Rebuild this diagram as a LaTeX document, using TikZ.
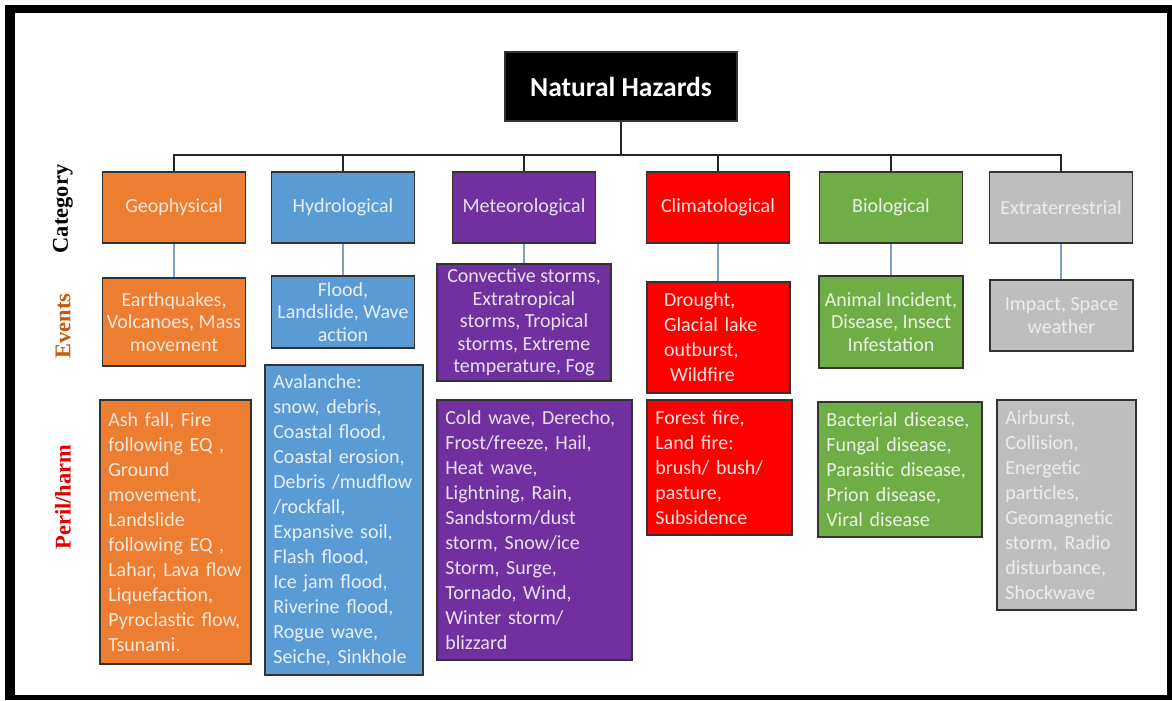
\documentclass[tikz,border=0pt]{standalone}
\usepackage{fontspec}
\setmainfont{Carlito}
\newfontfamily\rowfont{Liberation Serif}

\definecolor{geo}{RGB}{237,125,49}
\definecolor{hyd}{RGB}{91,155,213}
\definecolor{met}{RGB}{112,48,160}
\definecolor{cli}{RGB}{255,0,0}
\definecolor{bio}{RGB}{112,173,71}
\definecolor{ext}{RGB}{190,190,190}
\definecolor{linkblue}{RGB}{127,160,195}
\definecolor{evbrown}{RGB}{197,90,17}
\definecolor{perred}{RGB}{224,0,0}

\tikzset{
  box/.style={draw=black!80, line width=0.9pt, inner sep=2pt, font=\fontsize{12}{15}\selectfont},
  catbox/.style={box, minimum width=85.8pt, minimum height=42.6pt},
  evbox/.style={box, align=center, font=\fontsize{12}{13.5}\selectfont},
  perbox/.style={box, align=left, inner xsep=5pt},
  tree/.style={line width=1.2pt, black!85},
  link/.style={line width=0.7pt, linkblue},
  rowlabel/.style={rotate=90, font=\rowfont\bfseries\fontsize{13.5}{16}\selectfont},
  cgeo/.style={fill=geo, text=white!82!geo},
  chyd/.style={fill=hyd, text=white!85!hyd},
  cmet/.style={fill=met, text=white!85!met},
  ccli/.style={fill=cli, text=white!88!cli},
  cbio/.style={fill=bio, text=white!85!bio},
  cext/.style={fill=ext, text=white!70!ext}
}

\begin{document}
\begin{tikzpicture}[x=0.6pt, y=-0.6pt]
\useasboundingbox (0,0) rectangle (1172,700);
% frame
\fill[black] (5,5) rectangle (1172,700);
\fill[white] (15,13) rectangle (1167,695);

% top
\node[box, fill=black, text=white, minimum width=139.2pt, minimum height=41.4pt,
  font=\bfseries\fontsize{16.5}{20}\selectfont] (title) at (621,86.5) {Natural Hazards};

% row labels
\node[rowlabel] (lab-cat) at (63,209) {Category};
\node[rowlabel, text=evbrown] (lab-ev) at (63,326) {Events};
\node[rowlabel, text=perred] (lab-per) at (63,497) {Peril/harm};

% category
\node[catbox, cgeo] (cat-geo) at (174,207.5) {Geophysical};
\node[catbox, chyd] (cat-hyd) at (343,207.5) {Hydrological};
\node[catbox, cmet] (cat-met) at (524,207.5) {Meteorological};
\node[catbox, ccli] (cat-cli) at (718,207.5) {Climatological};
\node[catbox, cbio] (cat-bio) at (891,207.5) {Biological};
\node[catbox, cext] (cat-ext) at (1061,207.5) {Extraterrestrial};

% events
\node[evbox, cgeo, minimum width=85.8pt, minimum height=52.8pt] (ev-geo) at (174,322)
  {Earthquakes,\\Volcanoes, Mass\\movement};
\node[evbox, chyd, minimum width=85.8pt, minimum height=43.2pt] (ev-hyd) at (343,312)
  {Flood,\\Landslide, Wave\\action};
\node[evbox, cmet, minimum width=104.4pt, minimum height=70.2pt] (ev-met) at (524,322.5)
  {Convective storms,\\Extratropical\\storms, Tropical\\storms, Extreme\\temperature, Fog};
\node[evbox, ccli, align=left, inner xsep=10.2pt, text width=65.4pt, minimum height=66.6pt,
  font=\fontsize{12}{15}\selectfont] (ev-cli) at (718.5,337.5)
  {Drought,\\Glacial lake\\outburst,\\\hspace{3.6pt}Wildfire};
\node[evbox, cbio, minimum width=86.4pt, minimum height=55.2pt] (ev-bio) at (891,322)
  {Animal Incident,\\Disease, Insect\\Infestation};
\node[evbox, cext, minimum width=85.8pt, minimum height=42.6pt] (ev-ext) at (1061.5,315.5)
  {Impact, Space\\weather};

% peril/harm
\node[perbox, cgeo, text width=80.6pt, minimum height=158.4pt] (per-geo) at (175.5,532)
  {Ash fall, Fire\\following EQ ,\\Ground\\movement,\\Landslide\\following EQ ,\\Lahar, Lava flow\\Liquefaction,\\Pyroclastic flow,\\Tsunami.};
\node[perbox, chyd, text width=84.8pt, minimum height=186pt] (per-hyd) at (344,520)
  {Avalanche:\\snow, debris,\\Coastal flood,\\Coastal erosion,\\Debris /mudflow\\/rockfall,\\Expansive soil,\\Flash flood,\\Ice jam flood,\\Riverine flood,\\Rogue wave,\\Seiche, Sinkhole};
\node[perbox, cmet, text width=107pt, minimum height=156pt] (per-met) at (534.5,530)
  {Cold wave, Derecho,\\Frost/freeze, Hail,\\Heat wave,\\Lightning, Rain,\\Sandstorm/dust\\storm, Snow/ice\\Storm, Surge,\\Tornado, Wind,\\Winter storm/\\blizzard};
\node[perbox, ccli, text width=77pt, minimum height=81pt] (per-cli) at (719.5,467.5)
  {Forest fire,\\Land fire:\\brush/ bush/\\pasture,\\Subsidence};
\node[perbox, cbio, text width=88.4pt, minimum height=81pt] (per-bio) at (900,469.5)
  {Bacterial disease,\\Fungal disease,\\Parasitic disease,\\Prion disease,\\Viral disease};
\node[perbox, cext, text width=73.4pt, minimum height=126pt] (per-ext) at (1066.5,505)
  {Airburst,\\Collision,\\Energetic\\particles,\\Geomagnetic\\storm, Radio\\disturbance,\\Shockwave};

% connectors
\coordinate (bar) at (621,155);
\draw[tree] (title.south) -- (bar);
\foreach \c in {geo,hyd,met,cli,bio,ext}{
  \draw[tree] (cat-\c.north) |- (bar);
  \draw[link] (cat-\c.south) -- (cat-\c.south |- ev-\c.north);
}
\end{tikzpicture}
\end{document}
